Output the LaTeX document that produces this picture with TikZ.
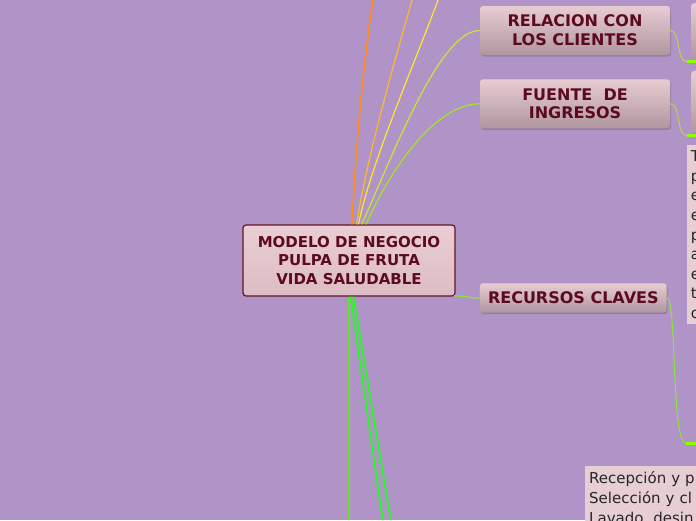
\documentclass[tikz,border=0pt]{standalone}
\usepackage{fontspec}
\setmainfont{DejaVu Sans}
\usetikzlibrary{shadows}
\definecolor{bg}{RGB}{177,148,199}
\definecolor{maroontext}{RGB}{92,10,30}
\definecolor{maroonline}{RGB}{100,18,40}
\definecolor{cenTop}{RGB}{234,206,211}
\definecolor{cenBot}{RGB}{220,188,196}
\definecolor{brTop}{RGB}{231,204,210}
\definecolor{brBot}{RGB}{176,150,160}
\definecolor{boxfill}{RGB}{231,206,213}
\definecolor{cOrange}{RGB}{255,140,20}
\definecolor{cOrYel}{RGB}{255,185,40}
\definecolor{cYellow}{RGB}{255,232,40}
\definecolor{cYGreen}{RGB}{200,230,50}
\definecolor{cGreen}{RGB}{160,230,40}
\definecolor{cBright}{RGB}{30,255,30}
\definecolor{cPale}{RGB}{100,225,40}
\definecolor{cMuted}{RGB}{185,212,80}
\definecolor{cRec}{RGB}{140,228,60}
\definecolor{cThick}{RGB}{140,255,0}
\begin{document}
\begin{tikzpicture}[x=1pt,y=-1pt,
  central/.style={draw=maroonline, line width=1.2pt, rounded corners=3pt,
    top color=cenTop, bottom color=cenBot, text=maroontext,
    font=\bfseries\fontsize{15}{18.7}\selectfont, align=center,
    minimum width=212pt, minimum height=71pt, inner sep=0pt},
  branch/.style={rounded corners=3pt, top color=brTop, bottom color=brBot,
    text=maroontext, font=\bfseries\fontsize{16}{18.7}\selectfont,
    align=center, inner sep=0pt,
    drop shadow={shadow xshift=1pt, shadow yshift=-1.5pt, opacity=0.3, fill=black!70}},
  stub/.style={branch, anchor=north west, minimum width=60pt},
  textbox/.style={fill=boxfill, anchor=north west, align=left,
    text=black!85, font=\fontsize{15}{19.6}\selectfont, inner xsep=4pt, inner ysep=5.5pt},
  link/.style={line width=1.2pt},
  thick/.style={line width=2.6pt, draw=cThick}
]
\useasboundingbox (0,0) rectangle (696,520);
\clip (0,0) rectangle (696,520);
\fill[bg] (0,0) rectangle (696,520);

% nodes
\node[central] (c) at (349,260.5) {MODELO DE NEGOCIO\\PULPA DE FRUTA\\VIDA SALUDABLE};
\node[branch, minimum width=190pt, minimum height=49pt] (rel) at (575,30.5) {RELACION CON\\LOS CLIENTES};
\node[branch, minimum width=190pt, minimum height=49pt] (fue) at (575,103.8) {FUENTE\ \ DE\\INGRESOS};
\node[branch, minimum width=186.7pt, minimum height=29.4pt] (rec) at (573.3,298) {RECURSOS CLAVES};

\node[stub, minimum height=57pt] (s1) at (691,3) {};
\node[stub, minimum height=62.6pt] (s2) at (691,70.7) {};
\node[textbox, text width=60pt] (t1) at (686.7,145) {T\\p\\e\\e\\p\\a\\e\\t\\c};
\node[textbox, text width=150pt, font=\fontsize{15}{20}\selectfont] (t2) at (585,465.7) {Recepción y p\\Selección y cl\\Lavado, desin};

% free ends
\coordinate (o1) at (373,0);
\coordinate (o2) at (412,0);
\coordinate (o3) at (438,0);
\coordinate (b1) at (349,520);
\coordinate (b2) at (382.7,520);
\coordinate (b3) at (390.7,520);
\coordinate (k1) at (687,61.7);
\coordinate (k1e) at (700,61.7);
\coordinate (k2) at (687,135.6);
\coordinate (k2e) at (700,135.6);
\coordinate (k3) at (686,443.5);
\coordinate (k3e) at (700,443.5);

% connectors from the central node
\draw[link, line width=1.6pt, cOrange] ([xshift=3pt]c.north) .. controls (356,140) and (364,60) .. (o1);
\draw[link, cOrYel] ([xshift=7.7pt]c.north) .. controls (366,160) and (395,60) .. (o2);
\draw[link, cYellow] ([xshift=9.5pt]c.north) .. controls (370,165) and (418,55) .. (o3);
\draw[link, cYGreen] ([xshift=12.7pt]c.north) .. controls (395,150) and (440,30.5) .. (rel.west);
\draw[link, cGreen] ([xshift=17pt]c.north) .. controls (390,170) and (435,103.8) .. (fue.west);
\draw[line width=1.3pt, cPale] (c.south -| b1) -- (b1);
\draw[line width=1.8pt, cBright] ([xshift=1.5pt]c.south) -- (b2);
\draw[line width=1.8pt, cBright] ([xshift=4.5pt]c.south) -- (b3);
\draw[line width=1.2pt, cRec] ([xshift=-1.5pt,yshift=0.8pt]c.south east) .. controls (466,296) and (470,298) .. (rec.west);

% connectors from the branch nodes
\draw[line width=1pt, cMuted] (rel.east) .. controls (681,30.5) and (676,61.7) .. (k1);
\draw[thick] (k1) -- (k1e);
\draw[line width=1pt, cMuted] (fue.east) .. controls (681,103.8) and (676,135.6) .. (k2);
\draw[thick] (k2) -- (k2e);
\draw[line width=1pt, cRec] (rec.east) .. controls (677,298) and (671,443.5) .. (k3);
\draw[thick] (k3) -- (k3e);
\end{tikzpicture}
\end{document}
